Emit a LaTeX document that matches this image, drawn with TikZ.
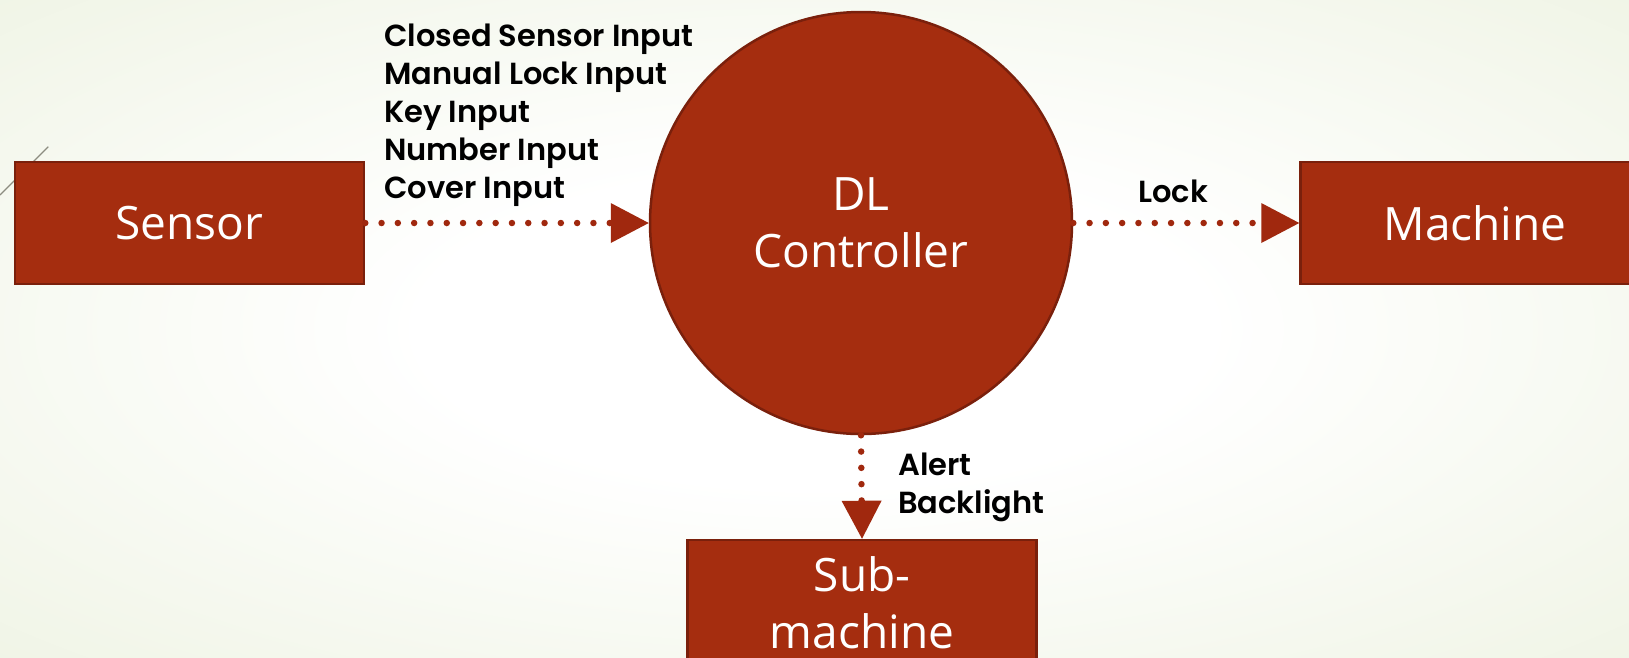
\documentclass[tikz,border=0pt]{standalone}
\usepackage{fontspec}
\setmainfont{Open Sans}
\IfFontExistsTF{Open Sans SemiBold}
  {\newfontfamily\boxfont{Open Sans SemiBold}\newcommand\boxsize{\fontsize{44.5}{57}\selectfont}}
  {\newfontfamily\boxfont{Open Sans}\newcommand\boxsize{\fontsize{46}{57}\selectfont}}
\IfFontExistsTF{Poppins SemiBold}
  {\newfontfamily\labelfont{Poppins SemiBold}\newcommand\labelsize{\fontsize{30.5}{38}\selectfont}}
  {\newfontfamily\labelfont{Poppins}\newcommand\labelsize{\bfseries\fontsize{29.6}{38}\selectfont}}
\usetikzlibrary{arrows.meta}
\definecolor{boxfill}{RGB}{165,45,15}
\definecolor{boxline}{RGB}{122,32,12}
\definecolor{flow}{RGB}{160,40,14}
\definecolor{bggreen}{RGB}{228,236,210}
\definecolor{decoline}{RGB}{140,140,128}
\pgfdeclareradialshading{slidebg}{\pgfpoint{0bp}{0bp}}{color(0bp)=(white); color(12bp)=(white); color(55bp)=(bggreen); color(72bp)=(bggreen)}
\begin{document}
\begin{tikzpicture}[x=1pt,y=-1pt,
  box/.style={draw=boxline, fill=boxfill, line width=2.5pt, inner sep=0pt,
    minimum width=349pt, minimum height=122pt, text=white, font=\boxfont\boxsize},
  hub/.style={circle, draw=boxline, fill=boxfill, line width=2.5pt, minimum size=422pt,
    inner sep=0pt, text=white, align=center, font=\boxfont\boxsize},
  boxtext/.style={text=white, font=\boxfont\boxsize, inner sep=0pt},
  flowlabel/.style={font=\labelfont\labelsize, inner sep=0pt, text=black},
  flowline/.style={draw=flow, line width=6.5pt, line cap=round, dash pattern=on 0pt off 16.3pt,
    -{Triangle[length=38pt,width=40pt,line width=0pt,fill=flow]}},
  deco/.style={draw=decoline, line width=1.2pt}
]
\useasboundingbox (0,0) rectangle (1629,657);
\shade[shading=slidebg] (0,0) rectangle (1629,657);
\clip (0,0) rectangle (1629,657);
\coordinate (decoA) at (0,195);
\coordinate (decoB) at (48.3,146.7);
\draw[deco] (decoA) -- (decoB);

\node[box] (sensor) at (189.5,223) {Sensor};
\node[box] (machine) at (1475,223) {Machine};
\node[box] (sub) at (862,601) {};
\node[hub] (ctrl) at (861,223) {DL\\Controller};
\node[boxtext, anchor=base] (subtxtA) at (862,591) {Sub-};
\node[boxtext, anchor=base] (subtxtB) at (862,648) {machine};

\node[flowlabel, anchor=base west] (inA) at (384,46) {Closed Sensor Input};
\node[flowlabel, anchor=base west] (inB) at (384,84) {Manual Lock Input};
\node[flowlabel, anchor=base west] (inC) at (384,122) {Key Input};
\node[flowlabel, anchor=base west] (inD) at (384,160) {Number Input};
\node[flowlabel, anchor=base west] (inE) at (384,198) {Cover Input};
\node[flowlabel, anchor=base] (lock) at (1173,202) {Lock};
\node[flowlabel, anchor=base west] (alert) at (898,475) {Alert};
\node[flowlabel, anchor=base west] (back) at (898,513) {Backlight};

\draw[flowline] (sensor.east) -- (ctrl.west);
\draw[flowline] (ctrl.east) -- (machine.west);
\draw[flowline] (ctrl.south) -- (sub.north);
\end{tikzpicture}
\end{document}
